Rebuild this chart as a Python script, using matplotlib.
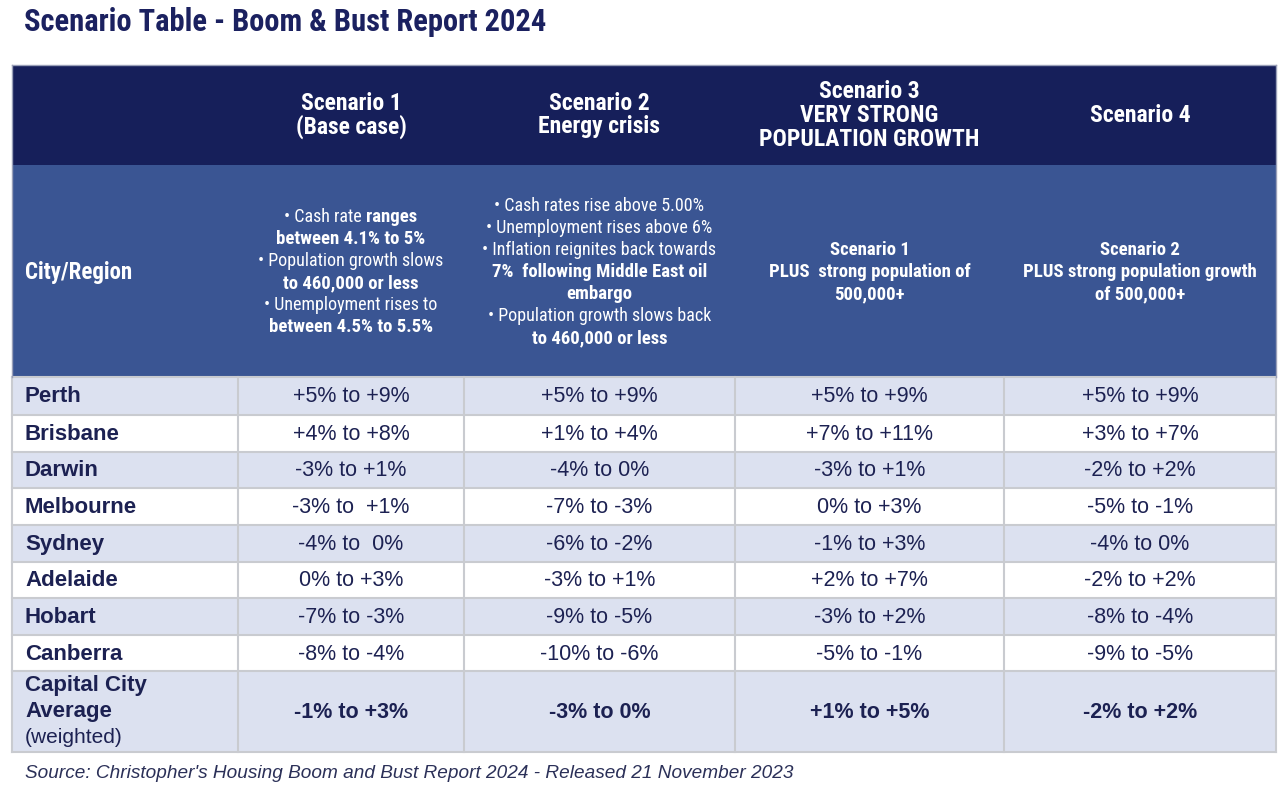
import matplotlib
matplotlib.use("Agg")
import matplotlib.pyplot as plt
from matplotlib.patches import Rectangle

# ---------- datos ----------
titulo = "Scenario Table - Boom & Bust Report 2024"
fuente = "Source: Christopher's Housing Boom and Bust Report 2024 - Released 21 November 2023"

encabezados = [
    [],
    ["Scenario 1", "(Base case)"],
    ["Scenario 2", "Energy crisis"],
    ["Scenario 3", "VERY STRONG", "POPULATION GROWTH"],
    ["Scenario 4"],
]

# cada linea: lista de (texto, peso)
descripciones = [
    [
        [("• Cash rate ", "normal"), ("ranges", "bold")],
        [("between 4.1% to 5%", "bold")],
        [("• Population growth slows", "normal")],
        [("to 460,000 or less", "bold")],
        [("• Unemployment rises to", "normal")],
        [("between 4.5% to 5.5%", "bold")],
    ],
    [
        [("• Cash rates rise above 5.00%", "normal")],
        [("• Unemployment rises above 6%", "normal")],
        [("• Inflation reignites back towards", "normal")],
        [("7%  following Middle East oil", "bold")],
        [("embargo", "bold")],
        [("• Population growth slows back", "normal")],
        [("to 460,000 or less", "bold")],
    ],
    [
        [("Scenario 1", "bold")],
        [("PLUS  strong population of", "bold")],
        [("500,000+", "bold")],
    ],
    [
        [("Scenario 2", "bold")],
        [("PLUS strong population growth", "bold")],
        [("of 500,000+", "bold")],
    ],
]

ciudades = ["Perth", "Brisbane", "Darwin", "Melbourne", "Sydney",
            "Adelaide", "Hobart", "Canberra"]

escenario_1 = ["+5% to +9%", "+4% to +8%", "-3% to +1%", "-3% to  +1%",
               "-4% to  0%", "0% to +3%", "-7% to -3%", "-8% to -4%"]
escenario_2 = ["+5% to +9%", "+1% to +4%", "-4% to 0%", "-7% to -3%",
               "-6% to -2%", "-3% to +1%", "-9% to -5%", "-10% to -6%"]
escenario_3 = ["+5% to +9%", "+7% to +11%", "-3% to +1%", "0% to +3%",
               "-1% to +3%", "+2% to +7%", "-3% to +2%", "-5% to -1%"]
escenario_4 = ["+5% to +9%", "+3% to +7%", "-2% to +2%", "-5% to -1%",
               "-4% to 0%", "-2% to +2%", "-8% to -4%", "-9% to -5%"]

promedio = ["-1% to +3%", "-3% to 0%", "+1% to +5%", "-2% to +2%"]

# ---------- estilo ----------
NARROW = ["Roboto Condensed", "DejaVu Sans"]
SANS = ["Liberation Sans", "DejaVu Sans"]

AZUL_OSCURO = "#161f5a"
AZUL_MEDIO = "#3a5593"
FILA_CLARA = "#dce1f0"
TEXTO = "#1c2152"
LINEA = "#c9cbd0"

# columnas y filas (pixeles)
col_x = [12, 238, 464, 735, 1004, 1276]
y_enc = [65, 165, 377]
fila_y = [377, 415, 452, 488, 525, 562, 598, 635, 671, 752]

fig = plt.figure(figsize=(12.86, 7.92), dpi=100)
ax = fig.add_axes([0, 0, 1, 1])
ax.set_xlim(0, 1286)
ax.set_ylim(792, 0)
ax.axis("off")

# titulo
ax.text(24, 22, titulo, fontsize=22, fontweight="bold", family=NARROW,
        color="#1b2160", ha="left", va="center")

# fondos de encabezado
ax.add_patch(Rectangle((col_x[0], y_enc[0]), col_x[-1] - col_x[0], y_enc[1] - y_enc[0],
                       facecolor=AZUL_OSCURO, edgecolor="none"))
ax.add_patch(Rectangle((col_x[0], y_enc[1]), col_x[-1] - col_x[0], y_enc[2] - y_enc[1],
                       facecolor=AZUL_MEDIO, edgecolor="none"))

# filas de datos
n_filas = len(ciudades) + 1
for r in range(n_filas):
    y0, y1 = fila_y[r], fila_y[r + 1]
    color = FILA_CLARA if r % 2 == 0 else "white"
    ax.add_patch(Rectangle((col_x[0], y0), col_x[-1] - col_x[0], y1 - y0,
                           facecolor=color, edgecolor="none"))

# lineas de rejilla
for y in fila_y:
    ax.plot([col_x[0], col_x[-1]], [y, y], color=LINEA, lw=1.5, zorder=3)
for x in col_x:
    ax.plot([x, x], [fila_y[0], fila_y[-1]], color=LINEA, lw=1.5, zorder=3)
ax.plot([col_x[0], col_x[-1]], [y_enc[0], y_enc[0]], color="#9aa0b8", lw=1, zorder=3)
for x in (col_x[0], col_x[-1]):
    ax.plot([x, x], [y_enc[0], fila_y[0]], color="#9aa0b8", lw=1, zorder=3)

centros = [(col_x[i] + col_x[i + 1]) / 2 for i in range(len(col_x) - 1)]

# encabezados principales
paso_enc = 24
for i, lineas in enumerate(encabezados):
    y_ini = 115 - paso_enc * (len(lineas) - 1) / 2
    for k, linea in enumerate(lineas):
        ax.text(centros[i], y_ini + k * paso_enc, linea, fontsize=17,
                fontweight="bold", family=NARROW, color="white",
                ha="center", va="center", zorder=4)

ax.text(25, 272, "City/Region", fontsize=16.5, fontweight="bold",
        family=NARROW, color="white", ha="left", va="center", zorder=4)

# descripciones con pesos mezclados
fig.canvas.draw()
renderer = fig.canvas.get_renderer()
inv = ax.transData.inverted()
paso = 22
for i, lineas in enumerate(descripciones):
    cx = centros[i + 1]
    cy = 272
    y_ini = cy - paso * (len(lineas) - 1) / 2
    for k, segmentos in enumerate(lineas):
        y = y_ini + k * paso
        textos = []
        for s, peso in segmentos:
            tam = 13.5 if peso == "bold" else 13
            t = ax.text(0, y, s, fontsize=tam, fontweight=peso,
                        family=NARROW, color="white", ha="left", va="center", zorder=4)
            textos.append(t)
        anchos = []
        for t in textos:
            bb = t.get_window_extent(renderer)
            x0 = inv.transform((bb.x0, 0))[0]
            x1 = inv.transform((bb.x1, 0))[0]
            anchos.append(x1 - x0)
        x = cx - sum(anchos) / 2
        for t, w in zip(textos, anchos):
            t.set_x(x)
            x += w

# valores
columnas = [escenario_1, escenario_2, escenario_3, escenario_4]
for r, ciudad in enumerate(ciudades):
    yc = (fila_y[r] + fila_y[r + 1]) / 2 + 1
    ax.text(25, yc, ciudad, fontsize=16, fontweight="bold", family=SANS,
            color=TEXTO, ha="left", va="center", zorder=4)
    for j, col in enumerate(columnas):
        ax.text(centros[j + 1], yc, col[r], fontsize=15.5, family=SANS,
                color=TEXTO, ha="center", va="center", zorder=4)

# fila promedio
yc = (fila_y[-2] + fila_y[-1]) / 2
ax.text(25, yc - 26, "Capital City", fontsize=16, fontweight="bold", family=SANS,
        color=TEXTO, ha="left", va="center", zorder=4)
ax.text(25, yc, "Average", fontsize=16, fontweight="bold", family=SANS,
        color=TEXTO, ha="left", va="center", zorder=4)
ax.text(25, yc + 26, "(weighted)", fontsize=15, family=SANS,
        color=TEXTO, ha="left", va="center", zorder=4)
for j, val in enumerate(promedio):
    ax.text(centros[j + 1], yc + 1, val, fontsize=15.5, fontweight="bold", family=SANS,
            color=TEXTO, ha="center", va="center", zorder=4)

# fuente
ax.text(25, 774, fuente, fontsize=13.7, style="italic", family=SANS,
        color="#2b3058", ha="left", va="center")

fig.savefig("out.png", dpi=100)
plt.close(fig)
